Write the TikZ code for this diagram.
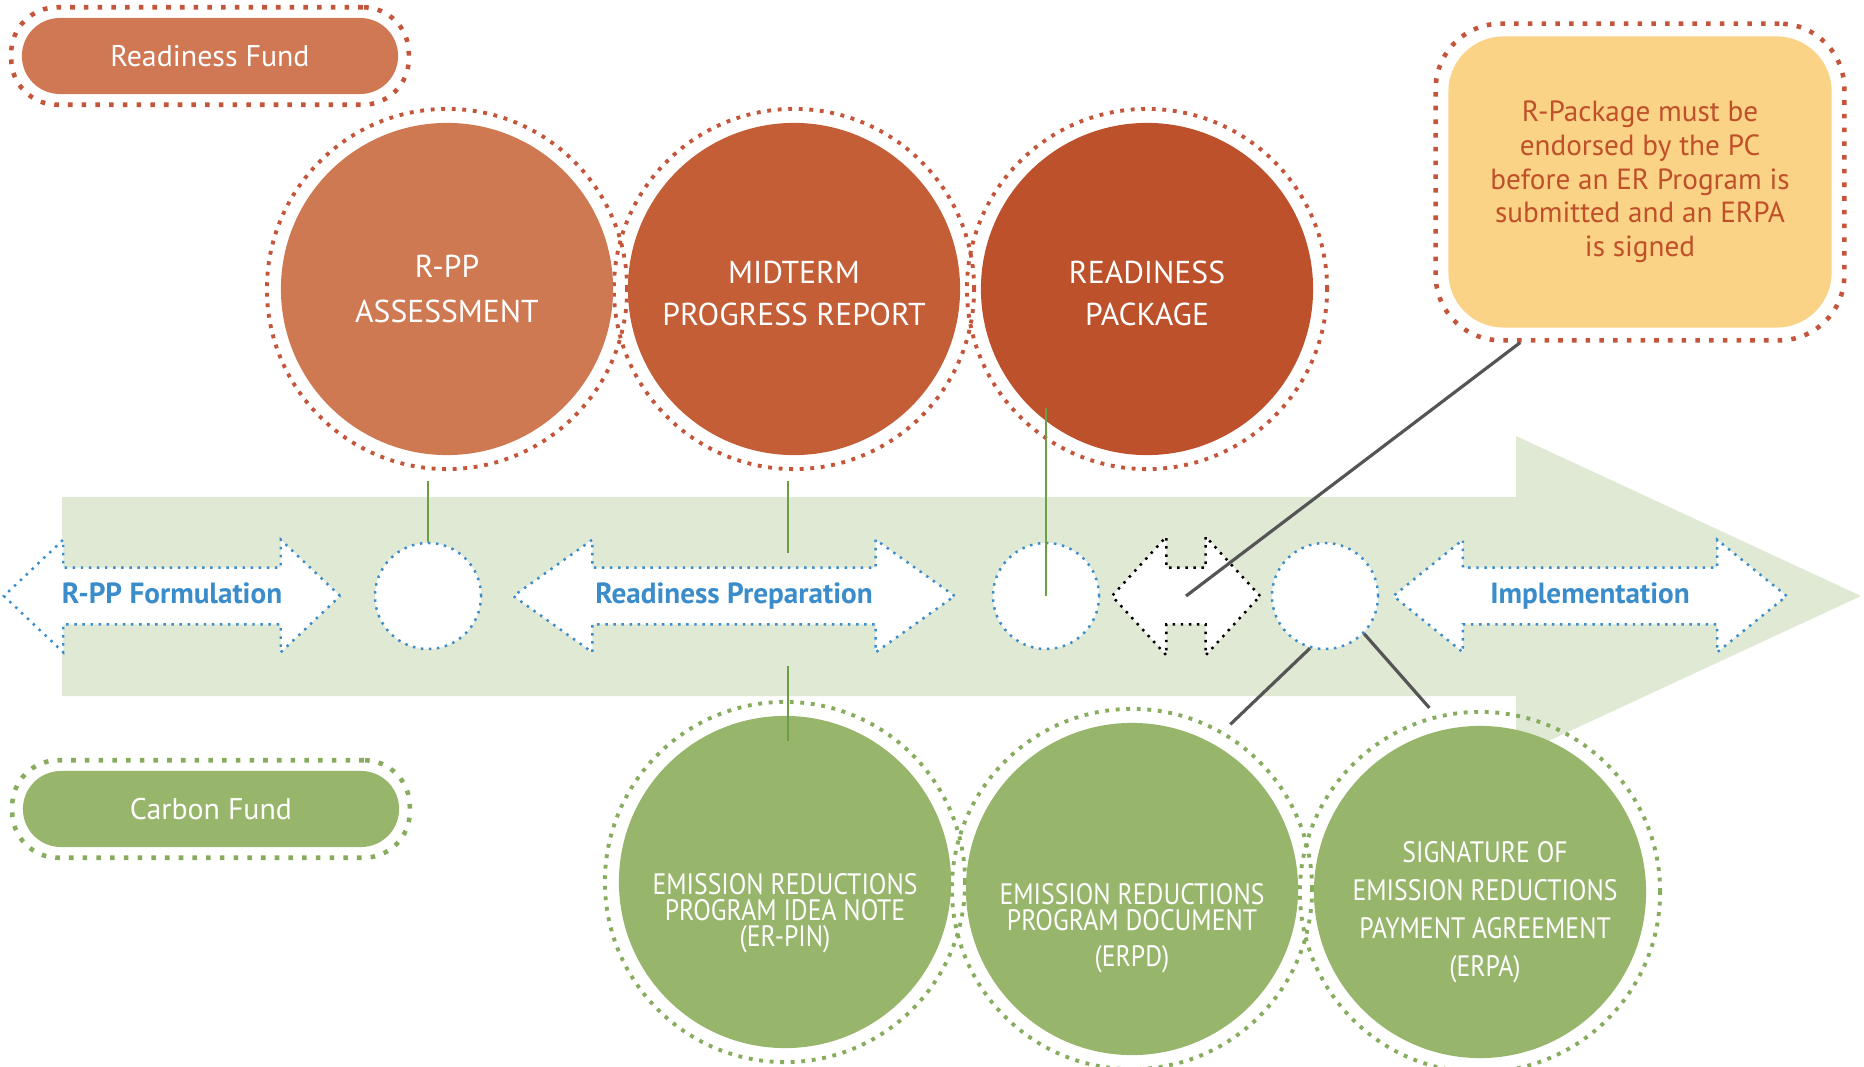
\documentclass[tikz,border=0pt]{standalone}
\usepackage{fontspec}
\setmainfont{PT Sans}
\newfontfamily\narrowsans[FakeStretch=0.87]{PT Sans}
\usetikzlibrary{shapes.arrows,fit,calc}

\definecolor{fundred}{HTML}{CF7853}
\definecolor{rppred}{HTML}{CF7953}
\definecolor{midred}{HTML}{C45E37}
\definecolor{packred}{HTML}{BC512C}
\definecolor{dotred}{HTML}{C4553A}
\definecolor{fundgreen}{HTML}{97B56B}
\definecolor{dotgreen}{HTML}{88AC5E}
\definecolor{bandgreen}{HTML}{DFE9D4}
\definecolor{stepblue}{HTML}{3B8CCB}
\definecolor{notefill}{HTML}{FAD386}
\definecolor{notetext}{HTML}{C0502A}
\definecolor{linegreen}{HTML}{6A9F45}
\definecolor{linegray}{HTML}{555555}

\begin{document}
\begin{tikzpicture}[
        x                       = 0.01cm,
        y                       = -0.01cm,
        every node/.style       = {font=\fontsize{9}{12}\selectfont, align=center},
        reddot/.style           = {draw=dotred, line width=1.1pt, dash pattern=on 1.1pt off 1.9pt},
        greendot/.style         = {draw=dotgreen, line width=1.1pt, dash pattern=on 1.1pt off 1.9pt},
        bluedot/.style          = {draw=stepblue, line width=0.7pt, dash pattern=on 0.7pt off 1.6pt},
        fundbox/.style          = {rounded corners=0.38cm, minimum width=3.76cm, minimum height=0.76cm, text=white, font=\fontsize{8.5}{10}\selectfont},
        fundring/.style         = {rounded corners=0.46cm, inner xsep=0.1cm, inner ysep=0.1cm, line width=1.3pt, dash pattern=on 1.3pt off 2.6pt},
        bigdisc/.style          = {circle, minimum size=3.32cm, inner sep=0pt, text=white},
        ring/.style             = {circle, minimum size=3.6cm, inner sep=0pt},
        stepshape/.style        = {double arrow, fill=white, bluedot, minimum width=1.1cm, double arrow head extend=0.28cm,
                                   text height=6pt, text depth=1.8pt, inner xsep=0pt, inner ysep=3.8pt,
                                   text=stepblue, font=\bfseries\fontsize{8.3}{9}\selectfont},
        gate/.style             = {circle, fill=white, bluedot, minimum size=1.06cm, inner sep=0pt},
        gtext/.style            = {text=white, font=\narrowsans\fontsize{8.4}{7.4}\selectfont},
        greenline/.style        = {draw=linegreen, line width=0.6pt},
        grayline/.style         = {draw=linegray, line width=0.9pt},
      ]
    \useasboundingbox (0,0) rectangle (1864,1067);

    % timeline band
    \fill[bandgreen] (62,497) -- (1516,497) -- (1516,436) -- (1861,596) -- (1516,756) -- (1516,696) -- (62,696) -- cycle;

    % funds
    \node[fundbox, fill=fundred] (rfund) at (210,56) {Readiness Fund};
    \node[fundring, draw=dotred, fit=(rfund)] (rfund-ring) {};
    \node[fundbox, fill=fundgreen] (cfund) at (211,809) {Carbon Fund};
    \node[fundring, draw=dotgreen, fit=(cfund)] (cfund-ring) {};

    % readiness milestones
    \foreach \n/\x/\y in {rpp/447/289, mtr/794/289, rpk/1147/289}
        \node[ring, reddot] (\n-ring) at (\x,\y) {};
    \node[bigdisc, fill=rppred] (rpp) at (rpp-ring) {R-PP\\[1pt]ASSESSMENT};
    \node[bigdisc, fill=midred] (mtr) at (mtr-ring) {\\[-3pt]MIDTERM\\PROGRESS REPORT};
    \node[bigdisc, fill=packred] (rpk) at (rpk-ring) {\\[-3pt]READINESS\\PACKAGE};

    % carbon fund milestones
    \foreach \n/\x/\y in {erpin/785/882, erpd/1132/889, erpa/1480/892}
        \node[ring, greendot] (\n-ring) at (\x,\y) {};
    \node[bigdisc, fill=fundgreen] (erpin) at (erpin-ring) {};
    \node[bigdisc, fill=fundgreen] (erpd) at (erpd-ring) {};
    \node[bigdisc, fill=fundgreen] (erpa) at (erpa-ring) {};
    \node[gtext] (erpin-txt) at ([yshift=-0.31cm]erpin.center) {EMISSION REDUCTIONS\\PROGRAM IDEA NOTE\\(ER-PIN)};
    \node[gtext] (erpd-txt) at ([yshift=-0.39cm]erpd.center) {EMISSION REDUCTIONS\\PROGRAM DOCUMENT\\[3pt](ERPD)};
    \node[gtext] (erpa-txt) at ([xshift=0.05cm, yshift=-0.2cm]erpa.center) {SIGNATURE OF\\[3.4pt]EMISSION REDUCTIONS\\[3.4pt]PAYMENT AGREEMENT\\[3.4pt](ERPA)};

    % phases and gates
    \node[stepshape, minimum height=3.36cm, double arrow tip angle=87] (form) at (172,596) {R-PP Formulation};
    \node[gate] (gate1) at (428,596) {};
    \node[stepshape, minimum height=4.41cm, double arrow tip angle=71] (prep) at (734,596) {Readiness Preparation};
    \node[gate] (gate2) at (1046,596) {};
    \node[stepshape, draw=black, minimum height=1.48cm, minimum width=1.16cm, double arrow head extend=0.31cm, double arrow tip angle=95] (swap) at (1186,596) {};
    \node[gate] (gate3) at (1325,596) {};
    \node[stepshape, minimum height=3.93cm, double arrow tip angle=78] (impl) at (1590,596) {Implementation};

    % note
    \node[rounded corners=0.55cm, fill=notefill, minimum width=3.83cm, minimum height=2.91cm, text=notetext, font=\fontsize{8.3}{9.6}\selectfont] (note) at (1640,182)
        {R-Package must be\\endorsed by the PC\\before an ER Program is\\submitted and an ERPA\\is signed};
    \node[fundring, draw=dotred, rounded corners=0.65cm, inner sep=0.12cm, fit=(note)] (note-ring) {};

    % links
    \coordinate (prepstub) at (788,553);
    \coordinate (rpkfoot) at (1046,408);
    \coordinate (pinstub) at (788,666);
    \draw[greenline, shorten >=0.1cm] (gate1.north) -- (gate1 |- rpp-ring.south);
    \draw[greenline, shorten >=0.1cm] (prepstub) -- (prepstub |- mtr-ring.south);
    \draw[greenline] (gate2.center) -- (rpkfoot);
    \draw[greenline] (pinstub) -- ++(0,75);
    \draw[grayline] ($(note-ring.south west)!0.21!(note-ring.south east)$) -- (swap.center);
    \draw[grayline, shorten >=0.1cm] (gate3.254) -- (erpd-ring.60);
    \draw[grayline, shorten >=0.1cm] (gate3.-44) -- (erpa-ring.104);
\end{tikzpicture}
\end{document}
